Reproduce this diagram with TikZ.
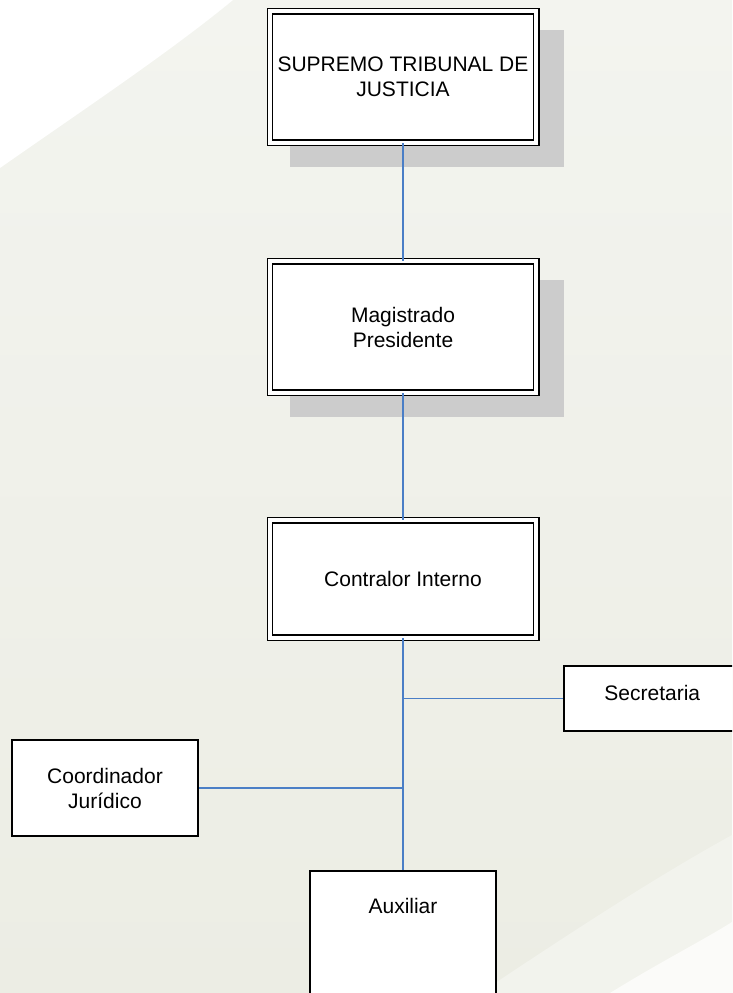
\documentclass[tikz,border=0pt]{standalone}
\usepackage{fontspec}
\setmainfont{Liberation Sans}
\usetikzlibrary{positioning,calc}
\pgfdeclarelayer{bg}
\pgfdeclarelayer{shade}
\pgfsetlayers{bg,shade,main}
\definecolor{linkblue}{RGB}{74,126,198}
\definecolor{shadegray}{RGB}{204,204,204}
\definecolor{papertop}{RGB}{243,244,239}
\definecolor{paperhi}{RGB}{251,251,249}
\definecolor{paperlo}{RGB}{236,237,228}
\definecolor{paperband}{RGB}{242,243,237}

\tikzset{
  dblbox/.style={draw, fill=white, line width=1.3pt, double=white,
    double distance=4pt, minimum width=266.4pt, inner sep=0pt, align=center},
  plainbox/.style={draw, fill=white, line width=1.6pt, inner sep=0pt, align=center},
  link/.style={draw=linkblue, line width=1.6pt},
}

\begin{document}
\begin{tikzpicture}[x=1pt, y=-1pt, font=\fontsize{21}{25}\selectfont]
      \useasboundingbox (0,0) rectangle (732,993);
      \clip (0,0) rectangle (732,993);
      % background
      \begin{pgfonlayer}{bg}
        \shade[top color=papertop, middle color=paperhi, bottom color=paperlo]
          (0,0) rectangle (732,993);
        \fill[white] (0,0) -- (0,168) .. controls (80,112) and (170,52) .. (233,0) -- cycle;
        \fill[paperband] (480,993) .. controls (560,940) and (650,880) .. (732,835)
          -- (732,993) -- cycle;
        \fill[paperhi] (610,993) .. controls (660,962) and (700,942) .. (732,922)
          -- (732,993) -- cycle;
      \end{pgfonlayer}
      % boxes
      \node[dblbox, minimum height=131.4pt] (sup) at (403,77) {SUPREMO TRIBUNAL DE\\JUSTICIA};
      \node[dblbox, minimum height=131.4pt] (pres) at (403,327) {Magistrado\\Presidente};
      \node[dblbox, minimum height=117.4pt] (ctrl) at (403,579) {Contralor Interno};
      \node[plainbox, minimum width=177pt, text height=34.2pt, text depth=31.2pt]
        (secr) at (652.3,698.5) {Secretaria};
      \node[plainbox, minimum width=186.4pt, minimum height=96.4pt]
        (coord) at (105,788) {Coordinador\\Jurídico};
      \node[plainbox, minimum width=186.4pt, text height=42.2pt, text depth=100pt]
        (aux) at (403,942) {Auxiliar};
      % shadows
      \begin{pgfonlayer}{shade}
        \fill[shadegray] ($(sup.north west)+(21,19)$) rectangle ($(sup.south east)+(27,24)$);
        \fill[shadegray] ($(pres.north west)+(21,19)$) rectangle ($(pres.south east)+(27,24)$);
      \end{pgfonlayer}
      % connectors
      \begin{scope}[link]
        \draw (sup) to (pres);
        \draw (pres) to (ctrl);
        \draw (ctrl) to (aux);
        \draw (secr.west) to (secr.west -| ctrl.south);
        \draw (coord.east) to (coord.east -| ctrl.south);
      \end{scope}
    \end{tikzpicture}
\end{document}
